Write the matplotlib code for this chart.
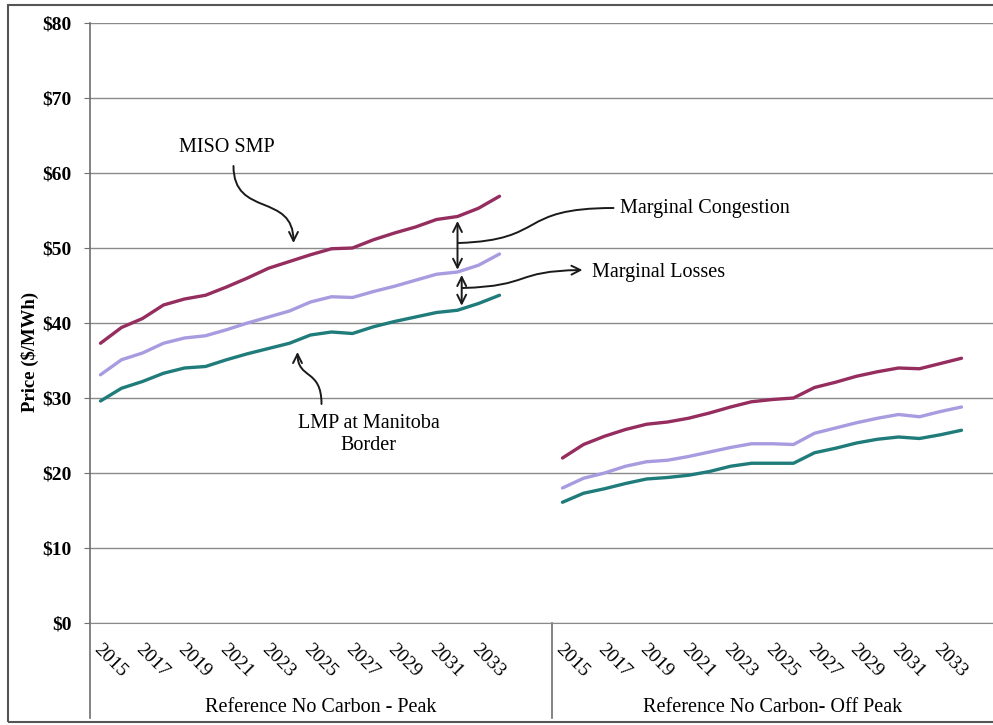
import numpy as np
import matplotlib
matplotlib.use("Agg")
import matplotlib.pyplot as plt
from matplotlib.patches import Rectangle, FancyArrowPatch
from matplotlib.path import Path
from matplotlib.transforms import blended_transform_factory, ScaledTranslation

plt.rcParams['font.family'] = ['Liberation Serif', 'DejaVu Serif']

# data, 2015-2034
years = list(range(2015, 2035))
groups = ["Reference No Carbon - Peak", "Reference No Carbon- Off Peak"]

peak_smp = [37.3, 39.4, 40.6, 42.4, 43.2, 43.7, 44.8, 46.0, 47.3, 48.2,
            49.1, 49.9, 50.0, 51.1, 52.0, 52.8, 53.8, 54.2, 55.3, 56.9]
peak_loss = [33.1, 35.1, 36.0, 37.3, 38.0, 38.3, 39.1, 40.0, 40.8, 41.6,
             42.8, 43.5, 43.4, 44.2, 44.9, 45.7, 46.5, 46.8, 47.7, 49.2]
peak_lmp = [29.6, 31.3, 32.2, 33.3, 34.0, 34.2, 35.1, 35.9, 36.6, 37.3,
            38.4, 38.8, 38.6, 39.5, 40.2, 40.8, 41.4, 41.7, 42.6, 43.7]

off_smp = [22.0, 23.8, 24.9, 25.8, 26.5, 26.8, 27.3, 28.0, 28.8, 29.5,
           29.8, 30.0, 31.4, 32.1, 32.9, 33.5, 34.0, 33.9, 34.6, 35.3]
off_loss = [18.0, 19.3, 20.0, 20.9, 21.5, 21.7, 22.2, 22.8, 23.4, 23.9,
            23.9, 23.8, 25.3, 26.0, 26.7, 27.3, 27.8, 27.5, 28.2, 28.8]
off_lmp = [16.1, 17.3, 17.9, 18.6, 19.2, 19.4, 19.7, 20.2, 20.9, 21.3,
           21.3, 21.3, 22.7, 23.3, 24.0, 24.5, 24.8, 24.6, 25.1, 25.7]

yticks = [0, 10, 20, 30, 40, 50, 60, 70, 80]

c_smp = '#952d5f'
c_loss = '#a89be0'
c_lmp = '#1f7c7a'

slots = 22  # each group has 22 category slots, 20 filled
x_peak = np.arange(len(years))
x_off = np.arange(len(years)) + slots

fig = plt.figure(figsize=(9.93, 7.25), dpi=100)
W, H = 993, 725
ax = fig.add_axes([90 / W, (H - 623) / H, (slots * 2 * 21) / W, 600 / H])

lw = 2.4
for xs, s, l, m in [(x_peak, peak_smp, peak_loss, peak_lmp),
                    (x_off, off_smp, off_loss, off_lmp)]:
    ax.plot(xs, s, color=c_smp, lw=lw, solid_capstyle='round')
    ax.plot(xs, l, color=c_loss, lw=lw, solid_capstyle='round')
    ax.plot(xs, m, color=c_lmp, lw=lw, solid_capstyle='round')

ax.set_xlim(-0.5, 2 * slots - 0.5)
ax.set_ylim(0, 80)
ax.set_yticks(yticks, ['$%d' % v for v in yticks])
ax.yaxis.grid(True, color='#8a8a8a', lw=1.0)
ax.set_axisbelow(True)
for sp in ['top', 'right']:
    ax.spines[sp].set_visible(False)
ax.spines['left'].set_color('#6e6e6e')
ax.spines['bottom'].set_color('#8a8a8a')
ax.spines['left'].set_linewidth(1.2)
ax.tick_params(axis='y', length=4, color='#6e6e6e', pad=9, labelsize=14)
for lab in ax.get_yticklabels():
    lab.set_fontweight('bold')

# year tick labels every other year
tick_pos = list(x_peak[::2]) + list(x_off[::2])
tick_lab = [str(y) for y in years[::2]] * 2
ax.set_xticks(tick_pos, tick_lab)
ax.tick_params(axis='x', length=0, pad=17, labelsize=14)
off = ScaledTranslation(-3 / 72, 0, fig.dpi_scale_trans)
for lab in ax.get_xticklabels():
    lab.set_rotation(-45)
    lab.set_ha('left')
    lab.set_va('center')
    lab.set_rotation_mode('anchor')
    lab.set_transform(lab.get_transform() + off)

# group dividers and group names
bt = blended_transform_factory(ax.transData, ax.transAxes)
for xd in [-0.5, slots - 0.5, 2 * slots - 0.5]:
    ax.plot([xd, xd], [0, -95 / 600], transform=bt, color='#6e6e6e',
            lw=1.2, clip_on=False)
bf = blended_transform_factory(ax.transData, fig.transFigure)
ax.text((slots - 1) / 2, (H - 707) / H, groups[0], transform=bf,
        ha='center', va='center', fontsize=14.5)
ax.text(slots + (slots - 1) / 2 - 0.5, (H - 707) / H, groups[1], transform=bf,
        ha='center', va='center', fontsize=14.5)

fig.text(30 / W, 1 - 352 / H, 'Price ($/MWh)', rotation=90, ha='center',
         va='center', fontsize=13.5, fontweight='bold')


def px(x, y):
    # picture pixel -> data coords
    return ((x - 100) / 21.0, (623 - y) / 7.5)


def curve(pts, style, **kw):
    verts = [px(*p) for p in pts]
    path = Path(verts, [Path.MOVETO, Path.CURVE4, Path.CURVE4, Path.CURVE4])
    a = FancyArrowPatch(path=path, arrowstyle=style, color='#1a1a1a',
                        lw=1.4, mutation_scale=16, **kw)
    ax.add_patch(a)


# annotations
ax.text(*px(226, 148), 'MISO SMP', ha='center', va='center', fontsize=14.5)
curve([(233, 166), (233, 218), (293, 192), (293, 243)], '->')
ax.text(*px(368, 423), 'LMP at Manitoba', ha='center', va='center', fontsize=14.5)
ax.text(*px(368, 446), 'Border', ha='center', va='center', fontsize=14.5)
curve([(321, 404), (321, 368), (297, 380), (297, 352)], '->')

ax.annotate('', xy=(17, peak_smp[17] - 0.6), xytext=(17, peak_loss[17] + 0.3),
            arrowprops=dict(arrowstyle='<->', color='#1a1a1a', lw=1.4,
                            mutation_scale=16, shrinkA=0, shrinkB=0))
ax.annotate('', xy=(17.2, peak_loss[17] - 0.4), xytext=(17.2, peak_lmp[17] + 0.6),
            arrowprops=dict(arrowstyle='<->', color='#1a1a1a', lw=1.4,
                            mutation_scale=16, shrinkA=0, shrinkB=0))
curve([(458, 243), (548, 240), (515, 208), (613, 208)], '-')
curve([(462, 288), (532, 286), (512, 271), (582, 270)], '->')
ax.text(*px(620, 209), 'Marginal Congestion', ha='left', va='center', fontsize=14.5)
ax.text(*px(592, 272), 'Marginal Losses', ha='left', va='center', fontsize=14.5)

# scan frame
fig.patches.append(Rectangle((8 / W, 3 / H), 1.2, 1 - 8 / H, transform=fig.transFigure,
                             fill=False, edgecolor='#555555', lw=1.5))

fig.savefig('out.png', dpi=100)
